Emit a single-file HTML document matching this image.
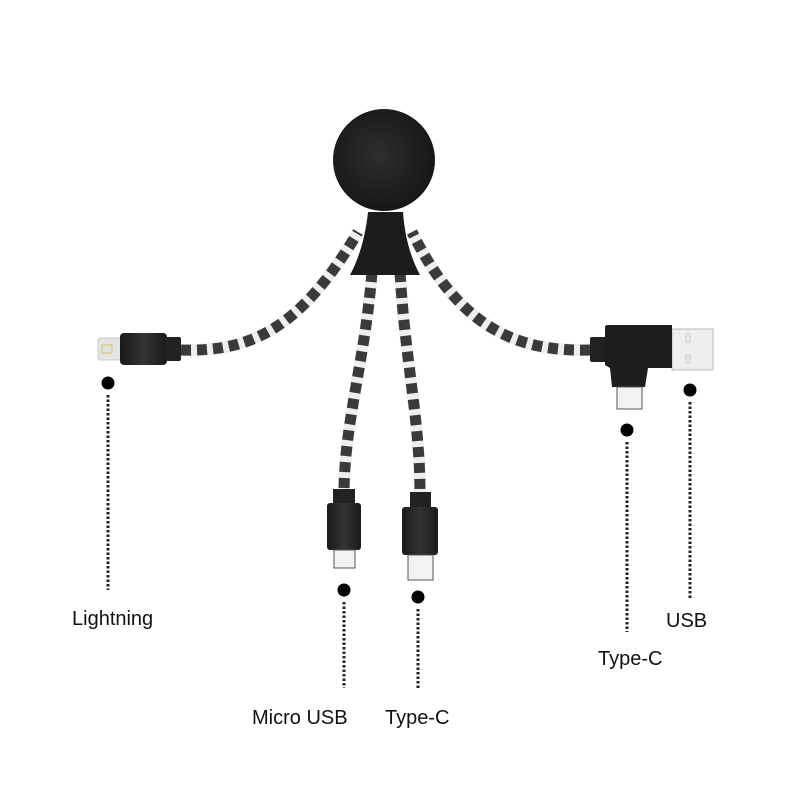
<!DOCTYPE html>
<html><head><meta charset="utf-8"><style>
html,body{margin:0;padding:0;background:#fff;}
svg{display:block;}
text{font-family:"Liberation Sans",sans-serif;font-size:20px;fill:#111;}
</style></head><body>
<svg width="800" height="800" viewBox="0 0 800 800" xmlns="http://www.w3.org/2000/svg">
<defs>
<linearGradient id="blk" x1="0" x2="1"><stop offset="0" stop-color="#1a1a1a"/><stop offset="0.5" stop-color="#333"/><stop offset="1" stop-color="#1a1a1a"/></linearGradient>
<radialGradient id="head" cx="0.45" cy="0.45" r="0.6"><stop offset="0" stop-color="#2e2e2e"/><stop offset="1" stop-color="#151515"/></radialGradient>
</defs>
<g fill="none" stroke-linecap="butt">
<path d="M181,350 C250,352 300,330 358,232" stroke="#eee" stroke-width="12"/>
<path d="M590,350 C520,352 460,330 412,232" stroke="#eee" stroke-width="12"/>
<path d="M372,272 C365,360 345,420 344,490" stroke="#eee" stroke-width="12"/>
<path d="M400,272 C405,360 420,420 420,493" stroke="#eee" stroke-width="12"/>
<path d="M181,350 C250,352 300,330 358,232" stroke="#3a3a3a" stroke-width="11" stroke-dasharray="10 6"/>
<path d="M590,350 C520,352 460,330 412,232" stroke="#3a3a3a" stroke-width="11" stroke-dasharray="10 6"/>
<path d="M372,272 C365,360 345,420 344,490" stroke="#3a3a3a" stroke-width="11" stroke-dasharray="10 6"/>
<path d="M400,272 C405,360 420,420 420,493" stroke="#3a3a3a" stroke-width="11" stroke-dasharray="10 6"/>
</g>
<path d="M368,212 L403,212 C405,240 412,260 420,275 L350,275 C358,260 365,240 368,212 Z" fill="#1c1c1c"/>
<circle cx="384" cy="160" r="51" fill="url(#head)"/>
<rect x="98" y="338" width="24" height="22" rx="2" fill="#e4e4e4" stroke="#ccc"/>
<rect x="102" y="345" width="10" height="8" fill="none" stroke="#d8c060" stroke-width="1"/>
<rect x="120" y="333" width="47" height="32" rx="4" fill="url(#blk)"/>
<rect x="166" y="337" width="15" height="24" rx="2" fill="#222"/>
<rect x="333" y="489" width="22" height="15" fill="#222"/>
<rect x="327" y="503" width="34" height="47" rx="3" fill="url(#blk)"/>
<rect x="334" y="550" width="21" height="18" fill="#f2f2f2" stroke="#555" stroke-width="1"/>
<rect x="410" y="492" width="21" height="16" fill="#222"/>
<rect x="402" y="507" width="36" height="48" rx="3" fill="url(#blk)"/>
<rect x="408" y="555" width="25" height="25" fill="#f2f2f2" stroke="#555" stroke-width="1"/>
<rect x="672" y="329" width="41" height="41" fill="#eee" stroke="#bbb"/>
<rect x="686" y="334" width="4" height="8" fill="none" stroke="#ccc"/>
<rect x="686" y="355" width="4" height="8" fill="none" stroke="#ccc"/>
<rect x="590" y="337" width="17" height="25" rx="2" fill="#222"/>
<path d="M605,327 Q605,325 608,325 L672,325 L672,368 L648,368 L645,387 L612,387 L610,368 L605,365 Z" fill="#1e1e1e"/>
<rect x="617" y="387" width="25" height="22" fill="#f2f2f2" stroke="#555" stroke-width="1"/>
<g fill="#000">
<circle cx="108" cy="383" r="6.5"/>
<circle cx="344" cy="590" r="6.5"/>
<circle cx="418" cy="597" r="6.5"/>
<circle cx="627" cy="430" r="6.5"/>
<circle cx="690" cy="390" r="6.5"/>
</g>
<g stroke="#222" stroke-width="3" stroke-dasharray="2.5 2">
<line x1="108" y1="395" x2="108" y2="590"/>
<line x1="344" y1="602" x2="344" y2="688"/>
<line x1="418" y1="609" x2="418" y2="690"/>
<line x1="627" y1="442" x2="627" y2="632"/>
<line x1="690" y1="402" x2="690" y2="598"/>
</g>
<text x="72" y="625">Lightning</text>
<text x="252" y="724">Micro USB</text>
<text x="385" y="724">Type-C</text>
<text x="598" y="665">Type-C</text>
<text x="666" y="627">USB</text>
</svg>
</body></html>
